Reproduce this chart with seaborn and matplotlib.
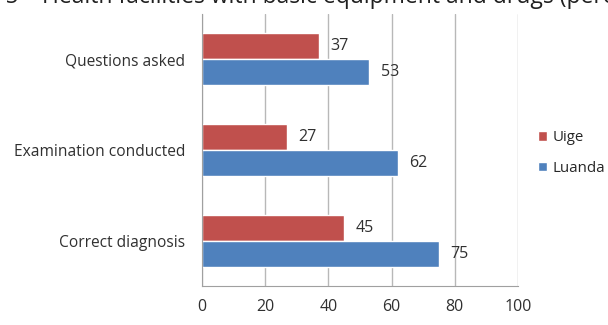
import matplotlib
matplotlib.use("Agg")
import matplotlib.pyplot as plt
import seaborn as sns
import pandas as pd

categories = ['Questions asked', 'Examination conducted', 'Correct diagnosis']
uige = [37, 27, 45]
luanda = [53, 62, 75]
regions = ['Uige', 'Luanda']
xticks = [0, 20, 40, 60, 80, 100]
title_prefix = 'Figure 5 – '
title_rest = 'Health facilities with basic equipment and drugs (percentage)'

df = pd.DataFrame({
    'category': categories * 2,
    'region': ['Uige'] * 3 + ['Luanda'] * 3,
    'value': uige + luanda,
})

sns.set_style('white')
plt.rcParams['font.family'] = ['Open Sans', 'DejaVu Sans']

fig = plt.figure(figsize=(6.08, 3.25), dpi=100)
ax = fig.add_axes([202 / 608, 1 - 286 / 325, 316 / 608, 272 / 325])

sns.barplot(data=df, y='category', x='value', hue='region', hue_order=regions,
            order=categories, orient='h', palette=['#C0504D', '#4F81BD'],
            width=0.57, saturation=1, ax=ax, legend=True)

for cont in ax.containers:
    ax.bar_label(cont, padding=8, fontsize=11.5, color='#303030')

ax.set_xlim(0, 100)
ax.set_ylim(2.5, -0.5)
ax.set_xticks(xticks)
ax.set_xticklabels([str(t) for t in xticks], fontsize=11.5, color='#303030')
ax.tick_params(axis='x', length=3.5, pad=6, color='#a0a0a0', width=1)
ax.set_yticks(range(3))
ax.set_yticklabels(categories, fontsize=11.2, color='#303030')
ax.tick_params(axis='y', which='major', length=0, pad=12)
ax.set_yticks([-0.5, 0.5, 1.5, 2.5], minor=True)
ax.tick_params(axis='y', which='minor', length=3.5, color='#a0a0a0', width=1)
ax.xaxis.grid(True, color='#b8b8b8', linewidth=1)
ax.set_axisbelow(True)
ax.set_xlabel('')
ax.set_ylabel('')
for s in ['top', 'right']:
    ax.spines[s].set_visible(False)
for s in ['left', 'bottom']:
    ax.spines[s].set_color('#a0a0a0')

ax.legend(loc='center left', bbox_to_anchor=(524 / 608, 172 / 325),
          bbox_transform=fig.transFigure, frameon=False, fontsize=10.8,
          handlelength=0.6, handleheight=0.6, handletextpad=0.4, labelspacing=1.05)

# title is clipped by the figure edge in the original; shift so "Health" starts near x=42px
fsize = 16.5
renderer = fig.canvas.get_renderer()
probe = fig.text(0, 0, title_prefix, fontsize=fsize)
pre_w = probe.get_window_extent(renderer).width
probe.remove()
fig.text((42 - pre_w) / 608, 1 - 3 / 325, title_prefix + title_rest,
         fontsize=fsize, va='baseline', ha='left', color='#202020')

fig.savefig('out.png', dpi=100)
